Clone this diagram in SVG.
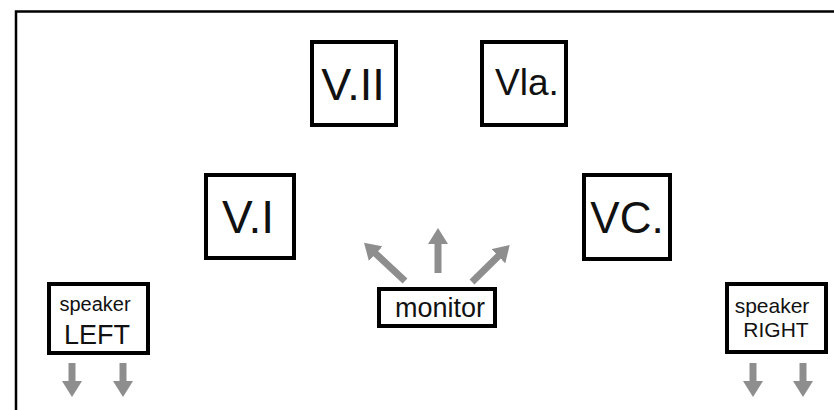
<svg xmlns="http://www.w3.org/2000/svg" width="834" height="410" viewBox="0 0 834 410">
<style>
.box{fill:#fff;stroke:#000;stroke-width:4}
.t{font-family:"Liberation Sans",Arial,Helvetica,sans-serif;fill:#111;text-anchor:middle}
.arr{stroke:#8e8e8e;stroke-width:7;fill:none;marker-end:url(#head)}
</style>
<defs>
<marker id="head" markerUnits="userSpaceOnUse" viewBox="0 -10 16 20" refX="1" refY="0" markerWidth="16" markerHeight="20" orient="auto">
<path d="M0,-10 L16,0 L0,10 Z" fill="#8e8e8e"/>
</marker>
</defs>
<rect width="834" height="410" fill="#fff"/>
<path d="M16,410 V11.5 H834" fill="none" stroke="#000" stroke-width="2.5"/>
<g id="connectors">
<line class="arr" x1="405" y1="281" x2="375" y2="253"/>
<line class="arr" x1="438" y1="273" x2="438" y2="243"/>
<line class="arr" x1="472" y1="282" x2="499" y2="255.5"/>
<line class="arr" x1="72" y1="363" x2="72" y2="382"/>
<line class="arr" x1="123" y1="363" x2="123" y2="382"/>
<line class="arr" x1="753" y1="363" x2="753" y2="382"/>
<line class="arr" x1="803" y1="363" x2="803" y2="382"/>
</g>
<g id="vII"><rect class="box" x="312" y="42" width="84" height="83"/><text class="t" x="353" y="100" font-size="45">V.II</text></g>
<g id="vla"><rect class="box" x="482" y="42" width="84" height="83"/><text class="t" x="527" y="95" font-size="37">Vla.</text></g>
<g id="vI"><rect class="box" x="206" y="175" width="88" height="83"/><text class="t" x="248" y="233" font-size="46">V.I</text></g>
<g id="vc"><rect class="box" x="584" y="175" width="86" height="84"/><text class="t" x="627" y="233" font-size="44">VC.</text></g>
<g id="monitor"><rect class="box" x="379" y="289" width="116" height="37"/><text class="t" x="440" y="317" font-size="27">monitor</text></g>
<g id="speakerLeft"><rect class="box" x="49" y="284" width="99" height="69"/><text class="t" x="95" y="311" font-size="20" fill="#444">speaker</text><text class="t" x="97" y="344" font-size="27">LEFT</text></g>
<g id="speakerRight"><rect class="box" x="727" y="284" width="99" height="68"/><text class="t" x="772" y="313" font-size="21" fill="#444">speaker</text><text class="t" x="776" y="337" font-size="21">RIGHT</text></g>
</svg>
